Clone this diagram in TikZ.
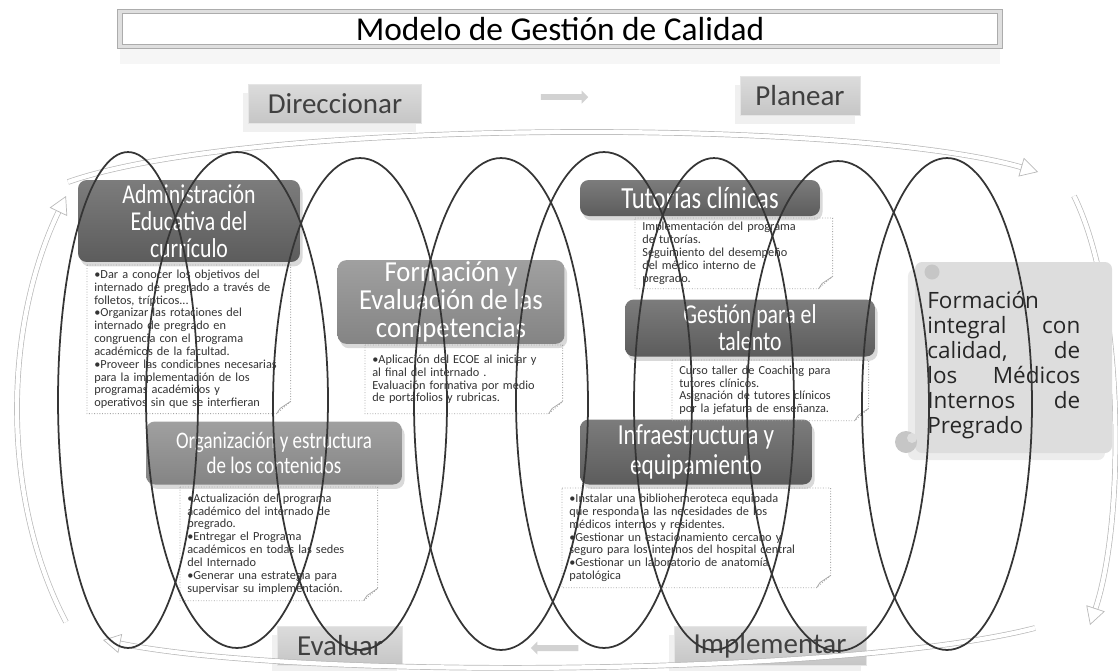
\documentclass[tikz,border=0pt]{standalone}
\usepackage{fontspec}
\setmainfont{Carlito}
\newfontfamily\cabecera[FakeStretch=0.8]{Carlito}
\newfontfamily\cabeceraancha[FakeStretch=0.92]{Carlito}
\newfontfamily\lema{Open Sans}
\usetikzlibrary{shapes.arrows,shadows,arrows.meta}
\definecolor{grisA}{HTML}{7C7C7C}
\definecolor{grisB}{HTML}{5C5C5C}
\definecolor{grisC}{HTML}{A0A0A0}
\definecolor{grisD}{HTML}{848484}
\definecolor{textonota}{HTML}{333333}
\definecolor{linea}{HTML}{353535}
\newcommand{\marconota}[1]{%
  \draw[marco] (#1.north west) -- (#1.north east) -- ([yshift=7pt]#1.south east)
    -- ([xshift=-8pt]#1.south east) -- (#1.south west) -- cycle;
  \draw[pliegue] ([yshift=7pt]#1.south east) -- ([xshift=-6pt,yshift=3pt]#1.south east)
    -- ([xshift=-8pt]#1.south east);}

\begin{document}
\begin{tikzpicture}[x=0.02cm, y=-0.02cm]
\tikzset{cabeza/.style={rounded corners=5pt, text=white, align=center, inner sep=1pt,
    drop shadow={opacity=0.3, shadow xshift=1.5pt, shadow yshift=-2.5pt}},
  oscura/.style={cabeza, top color=grisA, bottom color=grisB},
  clara/.style={cabeza, top color=grisC, bottom color=grisD},
  nota/.style={anchor=north west, align=left, inner xsep=0.14cm, inner ysep=2pt,
    text=textonota, font=\fontsize{7}{7.3}\selectfont},
  marco/.style={draw=gray!70, densely dotted, line width=0.5pt},
  pliegue/.style={draw=gray!70, line width=0.4pt},
  fase/.style={top color=gray!28, bottom color=gray!45, draw=gray!20, text=black!75,
    minimum height=0.78cm, font=\fontsize{16.5}{18}\selectfont,
    drop shadow={opacity=0.12, shadow xshift=-3pt, shadow yshift=-5pt}},
  flecha/.style={single arrow, fill=gray!35, draw=none, minimum height=0.95cm,
    minimum width=0.26cm, single arrow head extend=2pt, inner sep=1.5pt},
  ciclo/.style={draw=gray!55, line width=0.4pt, double=white, double distance=2.4pt,
    -{Stealth[open, length=10pt, width=11pt, inset=0pt]}},
  espira/.style={draw=linea, line width=1pt}}
\useasboundingbox (0,0) rectangle (1118,670);

% titulo y fases
\node[draw=gray!65, line width=0.6pt, double=gray!25, double distance=2pt, fill=white,
  minimum width=17.6cm, minimum height=0.62cm, font=\fontsize{19}{21}\selectfont,
  drop shadow={opacity=0.07, shadow yshift=-10pt, shadow xshift=0pt}] (titulo) at (560,29) {Modelo de Gestión de Calidad};
\node[fase, minimum width=3.46cm] (direccionar) at (335,104) {Direccionar};
\node[fase, minimum width=2.4cm] (planear) at (800,96) {Planear};
\node[fase, minimum width=2.5cm] (evaluar) at (340,646) {Evaluar};
\node[fase, minimum width=3.84cm] (implementar) at (770,646) {Implementar};
\node[flecha] (flecha1) at (563,97) {};
\node[flecha, shape border rotate=180] (flecha2) at (556,648) {};

% ciclo exterior
\coordinate (ci1) at (68,182);
\coordinate (ci2) at (1038,172);
\coordinate (ci3) at (1074,196);
\coordinate (ci4) at (1090,625);
\coordinate (ci5) at (1035,628);
\coordinate (ci6) at (103,640);
\coordinate (ci7) at (66,622);
\coordinate (ci8) at (66,196);
\draw[ciclo] (ci1) .. controls (250,118) and (850,118) .. (ci2);
\draw[ciclo] (ci3) .. controls (1125,300) and (1125,520) .. (ci4);
\draw[ciclo] (ci5) .. controls (850,676) and (300,680) .. (ci6);
\draw[ciclo] (ci7) .. controls (2,500) and (2,330) .. (ci8);

% cabeceras
\node[oscura, minimum width=4.44cm, minimum height=1.64cm, font=\cabecera\fontsize{15.5}{15.5}\selectfont] (admin) at (189,221) {Administración\\Educativa del\\currículo};
\node[clara, minimum width=4.54cm, minimum height=1.62cm, font=\cabeceraancha\fontsize{16.5}{15.8}\selectfont] (formacion) at (451,302) {Formación y\\Evaluación de las\\competencias};
\node[oscura, minimum width=4.8cm, minimum height=0.72cm, font=\cabecera\fontsize{17.5}{16}\selectfont] (tutorias) at (700,198) {Tutorías clínicas};
\node[oscura, minimum width=5cm, minimum height=1.14cm, font=\cabecera\fontsize{15.5}{15.5}\selectfont] (talento) at (750,328) {Gestión para el\\talento};
\node[clara, minimum width=5.12cm, minimum height=1.26cm, font=\cabecera\fontsize{13.5}{14}\selectfont] (organizacion) at (274,453) {Organización y estructura\\de los contenidos};
\node[oscura, minimum width=4.64cm, minimum height=1.3cm, font=\cabecera\fontsize{16.5}{17}\selectfont] (infra) at (696,452) {Infraestructura y\\equipamiento};

% notas
\node[nota, text width=3.78cm, minimum height=2.96cm] (notaadmin) at (87,265) {%
•Dar a conocer los objetivos del\\internado de pregrado a través de\\folletos, trípticos...\\
•Organizar las rotaciones del\\internado de pregrado en\\congruencia con el programa\\académicos de la facultad.\\
•Proveer las condiciones necesarias\\para la implementación de los\\programas académicos y\\operativos sin que se interfieran};
\marconota{notaadmin}
\node[nota, text width=3.66cm, minimum height=1.36cm] (notaformacion) at (365,345) {%
•Aplicación del ECOE al iniciar y\\al final del internado .\\Evaluación formativa por medio\\de portafolios y rubricas.};
\marconota{notaformacion}
\node[nota, text width=3.66cm, minimum height=1.4cm] (notatutorias) at (635,218) {%
Implementación del programa\\de tutorías.\\Seguimiento del desempeño\\del médico interno de\\pregrado.};
\marconota{notatutorias}
\node[nota, text width=3.64cm, minimum height=1.2cm] (notatalento) at (672,360) {%
Curso taller de Coaching para\\tutores clínicos.\\Asignación de tutores clínicos\\por la jefatura de enseñanza.};
\marconota{notatalento}
\node[nota, text width=3.66cm, minimum height=2.26cm] (notaorganizacion) at (180,487) {%
•Actualización del programa\\académico del internado de\\pregrado.\\
•Entregar el Programa\\académicos en todas las sedes\\del Internado\\
•Generar una estrategia para\\supervisar su implementación.};
\marconota{notaorganizacion}
\node[nota, text width=5.08cm, minimum height=1.98cm] (notainfra) at (562,488) {%
•Instalar una bibliohemeroteca equipada\\que responda a las necesidades de los\\médicos internos y residentes.\\
•Gestionar un estacionamiento cercano y\\seguro para los internos del hospital central\\
•Gestionar un laboratorio de anatomía\\patológica};
\marconota{notainfra}

% pergamino de la meta
\fill[gray!27, rounded corners=4pt, drop shadow={opacity=0.15, shadow xshift=-4pt, shadow yshift=-4pt}] (915,262) rectangle (1112,453);
\fill[gray!45] (932,272) circle[radius=0.15cm];
\fill[gray!45] (906,442) circle[radius=0.22cm];
\fill[gray!27] (912,438) circle[radius=0.1cm];
\node[anchor=north west, text width=3.06cm, align=left, inner sep=0pt, text=black!85,
  font=\lema\fontsize{12.8}{14.2}\selectfont] (meta) at (927,291) {%
Formación\\integral\hfill con\\calidad,\hfill de\\los\hfill Médicos\\Internos\hfill de\\Pregrado};

% espiral
\draw[espira] (128,400) ellipse (1.40cm and 4.96cm);
\draw[espira] (237,400) ellipse (1.82cm and 4.96cm);
\draw[espira] (360,404) ellipse (1.74cm and 4.92cm);
\draw[espira] (501,404) ellipse (1.74cm and 4.92cm);
\draw[espira] (604,400) ellipse (1.76cm and 4.96cm);
\draw[espira] (714,404) ellipse (1.60cm and 4.92cm);
\draw[espira] (838,406) ellipse (1.82cm and 4.90cm);
\draw[espira] (947,404) ellipse (1.70cm and 4.92cm);
\end{tikzpicture}
\end{document}
